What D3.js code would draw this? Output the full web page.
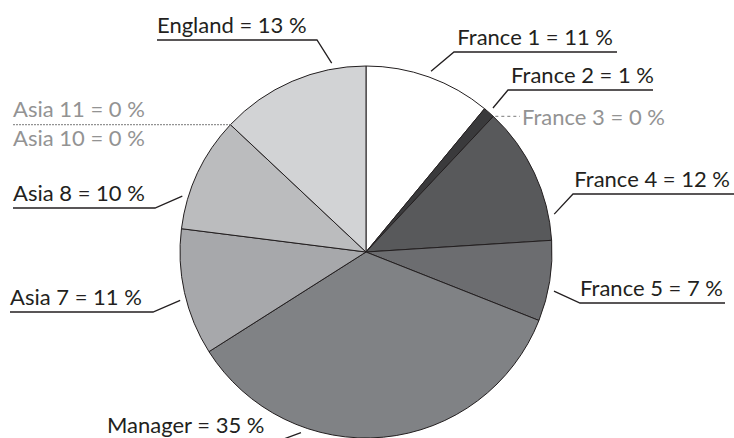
<!DOCTYPE html>
<html>
<head>
<meta charset="utf-8">
<script src="https://cdn.jsdelivr.net/npm/d3@7"></script>
<style>
  body { margin: 0; background: #fff; }
  text { font-family: Lato, "Open Sans", sans-serif; }
</style>
</head>
<body>
<div id="chart-area"></div>
<script>
// data, clockwise from 12 o'clock
const names = ["France 1", "France 2", "France 3", "France 4", "France 5", "Manager",
               "Asia 7", "Asia 8", "Asia 10", "Asia 11", "England"];
const shares = [11, 1, 0, 12, 7, 35, 11, 10, 0, 0, 13];
const fills = ["#ffffff", "#3a3a3c", "#4a4a4c", "#58595b", "#6c6d70", "#808285",
               "#a7a8ab", "#bbbcbe", "#c8c9cb", "#c8c9cb", "#d2d3d5"];

const W = 734, H = 438;
const CX = 366, CY = 252, R = 186;
const LEAD = R + 6;
const FS = "22px";

// label layout: t = where in the slice the leader touches, elbow + far end of underline
const labelLayout = {
  "England":  { t: 0.78, ex: 317, ey: 40,  fx: 157 },
  "France 1": { t: 0.5,  ex: 454, ey: 52,  fx: 617, tx: 613 },
  "France 2": { t: 0.5,  ex: 508, ey: 90,  fx: 653, tx: 654 },
  "France 4": { t: 0.82, ex: 573, ey: 194, fx: 740, tx: 730 },
  "France 5": { t: 0.61, ex: 580, ey: 303, fx: 725, tx: 723 },
  "Manager":  { t: 0.70, ex: 281, ey: 440, fx: 107 },
  "Asia 7":   { t: 0.45, ex: 153, ey: 312, fx: 10 },
  "Asia 8":   { t: 0.27, ex: 155, ey: 208, fx: 13 }
};

const data = names.map((n, i) => ({ name: n, value: shares[i], fill: fills[i] }));

const svg = d3.select("#chart-area").append("svg")
  .attr("width", W)
  .attr("height", H)

const g = svg.append("g")
  .attr("transform", `translate(${CX}, ${CY})`)

const pie = d3.pie().sort(null).value(d => d.value)
const arc = d3.arc().innerRadius(0).outerRadius(R)
const arcs = pie(data)

g.selectAll("path.slice").data(arcs.filter(d => d.data.value > 0))
  .enter().append("path")
  .attr("class", "slice")
  .attr("d", arc)
  .attr("fill", d => d.data.fill)
  .attr("stroke", "#231f20")
  .attr("stroke-width", 1)
  .attr("stroke-linejoin", "round")

const pt = (a, r) => [CX + r * Math.sin(a), CY - r * Math.cos(a)]
const ink = "#231f20", grey = "#939393"

// normal labels with underline + leader
arcs.filter(d => labelLayout[d.data.name]).forEach(d => {
  const L = labelLayout[d.data.name]
  const a = d.startAngle + L.t * (d.endAngle - d.startAngle)
  const p = pt(a, LEAD)
  const left = L.fx < L.ex
  svg.append("polyline")
    .attr("points", [[L.fx, L.ey], [L.ex, L.ey], p].map(q => q.join(",")).join(" "))
    .attr("fill", "none")
    .attr("stroke", ink)
    .attr("stroke-width", 1.3)
  svg.append("text")
    .attr("x", left ? L.fx : L.tx)
    .attr("y", L.ey - 7)
    .attr("text-anchor", left ? "start" : "end")
    .attr("font-size", FS)
    .attr("fill", ink)
    .text(`${d.data.name} = ${d.data.value} %`)
})

// zero slices: dotted leaders in grey
const zero = arcs.filter(d => d.data.value === 0)
const f3 = zero.find(d => d.data.name === "France 3")
const p3 = pt(f3.startAngle, R)
svg.append("line")
  .attr("x1", p3[0] + 2).attr("y1", p3[1])
  .attr("x2", 520).attr("y2", p3[1])
  .attr("stroke", grey).attr("stroke-width", 1.3)
  .attr("stroke-dasharray", "3,3")
svg.append("text")
  .attr("x", 522).attr("y", p3[1])
  .attr("dominant-baseline", "central")
  .attr("font-size", FS)
  .attr("fill", grey)
  .text(`${f3.data.name} = ${f3.data.value} %`)

const a10 = zero.find(d => d.data.name === "Asia 10")
const a11 = zero.find(d => d.data.name === "Asia 11")
const pa = pt(a10.startAngle, R)
svg.append("line")
  .attr("x1", 13).attr("y1", pa[1])
  .attr("x2", pa[0]).attr("y2", pa[1])
  .attr("stroke", grey).attr("stroke-width", 1.3)
  .attr("stroke-dasharray", "2,1")
svg.append("text")
  .attr("x", 13).attr("y", pa[1] - 8)
  .attr("font-size", FS)
  .attr("fill", grey)
  .text(`${a11.data.name} = ${a11.data.value} %`)
svg.append("text")
  .attr("x", 13).attr("y", pa[1] + 21)
  .attr("font-size", FS)
  .attr("fill", grey)
  .text(`${a10.data.name} = ${a10.data.value} %`)
</script>
</body>
</html>
